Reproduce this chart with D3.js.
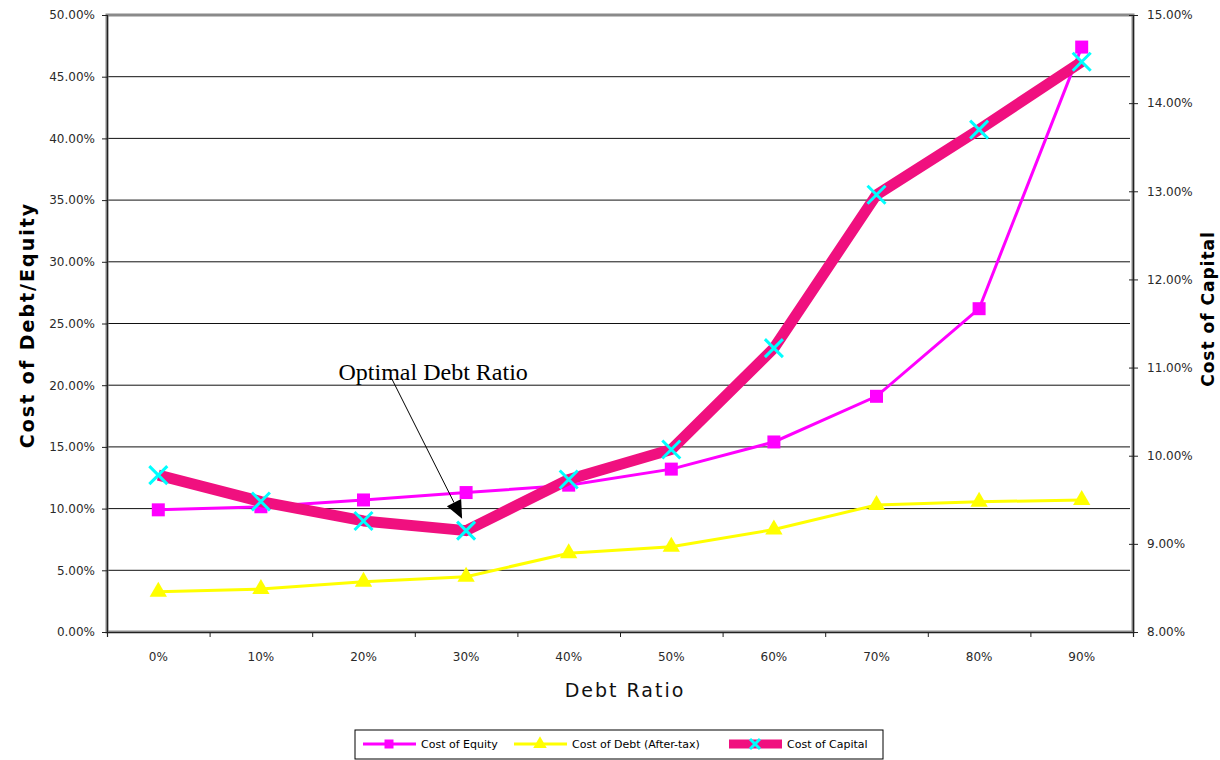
<!DOCTYPE html>
<html>
<head>
<meta charset="utf-8">
<script src="https://cdn.jsdelivr.net/npm/d3@7"></script>
<style>
	body { margin: 0; background: #fff; }
	text { font-family: 'DejaVu Sans', Verdana, sans-serif; }
	text.serif { font-family: 'Liberation Serif', 'Times New Roman', serif; }
</style>
</head>
<body>
<div class="wacc__chart"></div>
<script>
const debtRatios = ['0%', '10%', '20%', '30%', '40%', '50%', '60%', '70%', '80%', '90%'];
const costOfEquity = [9.9, 10.15, 10.7, 11.3, 11.9, 13.2, 15.4, 19.1, 26.2, 47.4];
const costOfDebt = [3.27, 3.48, 4.08, 4.48, 6.38, 6.9, 8.3, 10.3, 10.55, 10.7];
const costOfCapital = [9.78, 9.48, 9.26, 9.15, 9.73, 10.07, 11.22, 12.96, 13.7, 14.47];
const leftTicks = [0, 5, 10, 15, 20, 25, 30, 35, 40, 45, 50];
const rightTicks = [8, 9, 10, 11, 12, 13, 14, 15];
const optimalIndex = 3;

const waccChart = {
	vars() {
		this.width = 1220;
		this.height = 760;
		this.margin = {top: 15, right: 87, bottom: 128, left: 107};
		this.plotW = this.width - this.margin.left - this.margin.right;
		this.plotH = this.height - this.margin.top - this.margin.bottom;
		this.colors = {equity: '#ff00ff', debt: '#ffff00', capital: '#f0107f', cross: '#00ffff'};
	},
	makeChart() {
		const root = d3.select('.wacc__chart')
			.append('svg')
			.attr('width', this.width)
			.attr('height', this.height);

		const svg = root.append('g')
			.attr('transform', `translate(${this.margin.left}, ${this.margin.top})`);

		/* SCALES */
		const xBand = d3.scaleBand().domain(debtRatios).range([0, this.plotW]).padding(0);
		const xc = d => xBand(d) + xBand.bandwidth() / 2;
		const yLeft = d3.scaleLinear().domain([0, 50]).range([this.plotH, 0]);
		const yRight = d3.scaleLinear().domain([8, 15]).range([this.plotH, 0]);

		/* GRIDLINES */
		svg.append('g')
			.selectAll('line')
			.data(leftTicks.slice(1, -1))
			.enter()
			.append('line')
			.attr('x1', 0)
			.attr('x2', this.plotW - 3)
			.attr('y1', d => yLeft(d))
			.attr('y2', d => yLeft(d))
			.attr('stroke', '#111')
			.attr('stroke-width', 1);

		/* FRAME */
		svg.append('rect')
			.attr('width', this.plotW)
			.attr('height', this.plotH)
			.attr('fill', 'none')
			.attr('stroke', '#8a8a8a')
			.attr('stroke-width', 3);

		/* LEFT AXIS */
		const leftAxis = svg.append('g')
			.call(d3.axisLeft(yLeft).tickValues(leftTicks).tickSize(5).tickPadding(7)
				.tickFormat(d => d.toFixed(2) + '%'));

		/* RIGHT AXIS */
		const rightAxis = svg.append('g')
			.attr('transform', `translate(${this.plotW}, 0)`)
			.call(d3.axisRight(yRight).tickValues(rightTicks).tickSize(5).tickPadding(9)
				.tickFormat(d => d.toFixed(2) + '%'));
		rightAxis.selectAll('.tick').append('line').attr('x2', -4).attr('stroke', '#222');

		/* BOTTOM AXIS */
		const xEdges = d3.scaleLinear().domain([0, debtRatios.length]).range([0, this.plotW]);
		const bottomTicks = svg.append('g')
			.attr('transform', `translate(0, ${this.plotH})`)
			.call(d3.axisBottom(xEdges).ticks(debtRatios.length).tickSize(5).tickFormat(''));
		const bottomAxis = svg.append('g')
			.attr('transform', `translate(0, ${this.plotH})`)
			.call(d3.axisBottom(xBand).tickSize(0).tickPadding(20));
		bottomAxis.select('.domain').remove();

		[leftAxis, rightAxis, bottomTicks].forEach(a => {
			a.select('.domain').attr('stroke', '#222').attr('stroke-width', 1.2);
			a.selectAll('.tick line').attr('stroke', '#222');
		});
		[leftAxis, rightAxis, bottomAxis].forEach(a => {
			a.selectAll('.tick text')
				.attr('font-size', 12)
				.attr('fill', '#2a2a2a');
		});

		/* SERIES */
		const lineLeft = d3.line().x((d, i) => xc(debtRatios[i])).y(d => yLeft(d));
		const lineRight = d3.line().x((d, i) => xc(debtRatios[i])).y(d => yRight(d));

		svg.append('path')
			.datum(costOfEquity)
			.attr('d', lineLeft)
			.attr('fill', 'none')
			.attr('stroke', this.colors.equity)
			.attr('stroke-width', 3);
		svg.append('g')
			.selectAll('path')
			.data(costOfEquity)
			.enter()
			.append('path')
			.attr('d', d3.symbol(d3.symbolSquare, 169))
			.attr('transform', (d, i) => `translate(${xc(debtRatios[i])}, ${yLeft(d)})`)
			.attr('fill', this.colors.equity);

		svg.append('path')
			.datum(costOfDebt)
			.attr('d', lineLeft)
			.attr('fill', 'none')
			.attr('stroke', this.colors.debt)
			.attr('stroke-width', 3);
		svg.append('g')
			.selectAll('path')
			.data(costOfDebt)
			.enter()
			.append('path')
			.attr('d', d3.symbol(d3.symbolTriangle, 130))
			.attr('transform', (d, i) => `translate(${xc(debtRatios[i])}, ${yLeft(d)})`)
			.attr('fill', this.colors.debt);

		svg.append('path')
			.datum(costOfCapital)
			.attr('d', lineRight)
			.attr('fill', 'none')
			.attr('stroke', this.colors.capital)
			.attr('stroke-width', 11)
			.attr('stroke-linejoin', 'round');
		svg.append('g')
			.selectAll('path')
			.data(costOfCapital)
			.enter()
			.append('path')
			.attr('d', 'M-9,-9L9,9M-9,9L9,-9')
			.attr('transform', (d, i) => `translate(${xc(debtRatios[i])}, ${yRight(d)})`)
			.attr('stroke', this.colors.cross)
			.attr('stroke-width', 3)
			.attr('fill', 'none');

		/* ANNOTATION */
		const tip = [xc(debtRatios[optimalIndex]) - 4, yRight(costOfCapital[optimalIndex]) - 12];
		const start = [xc(debtRatios[optimalIndex - 1]) + 28, yLeft(20) - 7];
		const dx = tip[0] - start[0], dy = tip[1] - start[1];
		const len = Math.hypot(dx, dy);
		const ux = dx / len, uy = dy / len;
		const base = [tip[0] - ux * 18, tip[1] - uy * 18];
		svg.append('line')
			.attr('x1', start[0]).attr('y1', start[1])
			.attr('x2', base[0]).attr('y2', base[1])
			.attr('stroke', '#000')
			.attr('stroke-width', 1);
		svg.append('path')
			.attr('d', `M${tip[0]},${tip[1]}L${base[0] - uy * 8},${base[1] + ux * 8}L${base[0] + uy * 8},${base[1] - ux * 8}Z`)
			.attr('fill', '#000');
		svg.append('text')
			.attr('class', 'serif')
			.attr('x', xc(debtRatios[optimalIndex - 1]) - 25)
			.attr('y', yLeft(20) - 5)
			.attr('font-size', 24)
			.attr('fill', '#000')
			.text('Optimal Debt Ratio');

		/* AXIS TITLES */
		root.append('text')
			.attr('x', this.margin.left + this.plotW / 2 + 5)
			.attr('y', 697)
			.attr('text-anchor', 'middle')
			.attr('font-size', 19)
			.attr('letter-spacing', 2)
			.attr('fill', '#111')
			.text('Debt Ratio');
		root.append('text')
			.attr('transform', 'translate(34, 325) rotate(-90)')
			.attr('text-anchor', 'middle')
			.attr('font-size', 19)
			.attr('font-weight', 'bold')
			.attr('letter-spacing', 2)
			.attr('fill', '#000')
			.text('Cost of Debt/Equity');
		root.append('text')
			.attr('transform', 'translate(1214, 309) rotate(-90)')
			.attr('text-anchor', 'middle')
			.attr('font-size', 17)
			.attr('font-weight', 'bold')
			.attr('letter-spacing', 1)
			.attr('fill', '#000')
			.text('Cost of Capital');

		/* LEGEND */
		const legend = root.append('g').attr('transform', 'translate(355, 730)');
		legend.append('rect')
			.attr('width', 528)
			.attr('height', 29)
			.attr('fill', '#fff')
			.attr('stroke', '#000')
			.attr('stroke-width', 1);
		const items = [
			{name: 'Cost of Equity', x: 8, color: this.colors.equity, w: 3, mark: 'square'},
			{name: 'Cost of Debt (After-tax)', x: 159, color: this.colors.debt, w: 3, mark: 'triangle'},
			{name: 'Cost of Capital', x: 374, color: this.colors.capital, w: 9, mark: 'cross'}
		];
		const item = legend.selectAll('.item')
			.data(items)
			.enter()
			.append('g')
			.attr('transform', d => `translate(${d.x}, 14)`);
		item.append('line')
			.attr('x1', 0).attr('x2', 53)
			.attr('stroke', d => d.color)
			.attr('stroke-width', d => d.w);
		item.append('path')
			.attr('transform', 'translate(26, 0)')
			.attr('d', d => d.mark === 'cross' ? 'M-5,-5L5,5M-5,5L5,-5'
				: d3.symbol(d.mark === 'square' ? d3.symbolSquare : d3.symbolTriangle, d.mark === 'square' ? 81 : 80)())
			.attr('fill', d => d.mark === 'cross' ? 'none' : d.color)
			.attr('stroke', d => d.mark === 'cross' ? this.colors.cross : 'none')
			.attr('stroke-width', 3);
		item.append('text')
			.attr('x', 58)
			.attr('y', 4)
			.attr('font-size', 11)
			.attr('fill', '#000')
			.text(d => d.name);
	},
	init() {
		this.vars();
		this.makeChart();
	}
};

waccChart.init();
</script>
</body>
</html>
